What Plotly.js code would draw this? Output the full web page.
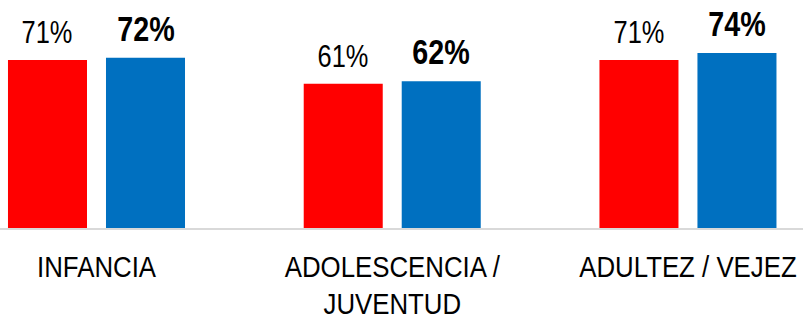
<!DOCTYPE html>
<html><head><meta charset="utf-8">
<script src="https://cdn.plot.ly/plotly-3.0.1.min.js"></script>
<style>html,body{margin:0;padding:0;background:#fff}#chart{width:803px;height:315px}</style>
</head><body><div id="chart"></div>
<script>
var categories = ["INFANCIA", "ADOLESCENCIA /<br>JUVENTUD", "ADULTEZ / VEJEZ"];
var seriesA = [71, 61, 71];
var seriesB = [72, 62, 74];
var labelsA = ["71%", "61%", "71%"];
var labelsB = ["72%", "62%", "74%"];

var idx = categories.map(function(c, i){ return i; });
var BAR_W = 0.2672, HALF_GAP = 0.0321;
var FONT = "Liberation Sans, Arial, sans-serif";

var traces = [
  {type:'bar', x: idx, y: seriesA, width: BAR_W, offset: -(BAR_W + HALF_GAP), marker:{color:'#FF0000'}, hoverinfo:'none'},
  {type:'bar', x: idx, y: seriesB, width: BAR_W, offset: HALF_GAP, marker:{color:'#0070C0'}, hoverinfo:'none'}
];

var annotations = [];
idx.forEach(function(i){
  annotations.push({x: i - HALF_GAP - BAR_W/2, y: seriesA[i], xref:'x', yref:'y', text: labelsA[i], showarrow:false,
    yanchor:'bottom', yshift: 8, font:{family:FONT, size:31, color:'#000'}});
  annotations.push({x: i + HALF_GAP + BAR_W/2, y: seriesB[i], xref:'x', yref:'y', text: '<b>'+labelsB[i]+'</b>', showarrow:false,
    yanchor:'bottom', yshift: 8, font:{family:FONT, size:35, color:'#000'}});
});

var layout = {
  width: 803, height: 315,
  margin: {l:0, r:0, t:0, b:87, pad:0},
  paper_bgcolor:'#fff', plot_bgcolor:'#fff',
  barmode:'overlay',
  showlegend:false,
  xaxis: {range:[-0.3263, 2.389], tickvals: idx, ticktext: categories, showline:true, linecolor:'#d9d9d9', linewidth:2,
    ticks:'', showgrid:false, zeroline:false, fixedrange:true, ticklabeloverflow:'allow', ticklabelstandoff: 12,
    tickfont:{family:FONT, size:29, color:'#000'}},
  yaxis: {range:[0, 96.4], visible:false, showgrid:false, zeroline:false, fixedrange:true},
  annotations: annotations
};

// narrow the text horizontally (reference uses a condensed face)
function condense(sel, s){
  document.querySelectorAll(sel).forEach(function(t){
    var g = document.createElementNS('http://www.w3.org/2000/svg', 'g');
    t.parentNode.insertBefore(g, t);
    g.appendChild(t);
    var b = g.getBBox();
    var cx = b.x + b.width/2;
    g.setAttribute('transform', 'translate(' + cx + ',0) scale(' + s + ',1) translate(' + (-cx) + ',0)');
  });
}
Plotly.newPlot('chart', traces, layout, {displayModeBar:false, staticPlot:true}).then(function(){
  condense('#chart .xtick text', 0.89);
  condense('#chart .annotation-text', 0.82);
});
</script></body></html>
